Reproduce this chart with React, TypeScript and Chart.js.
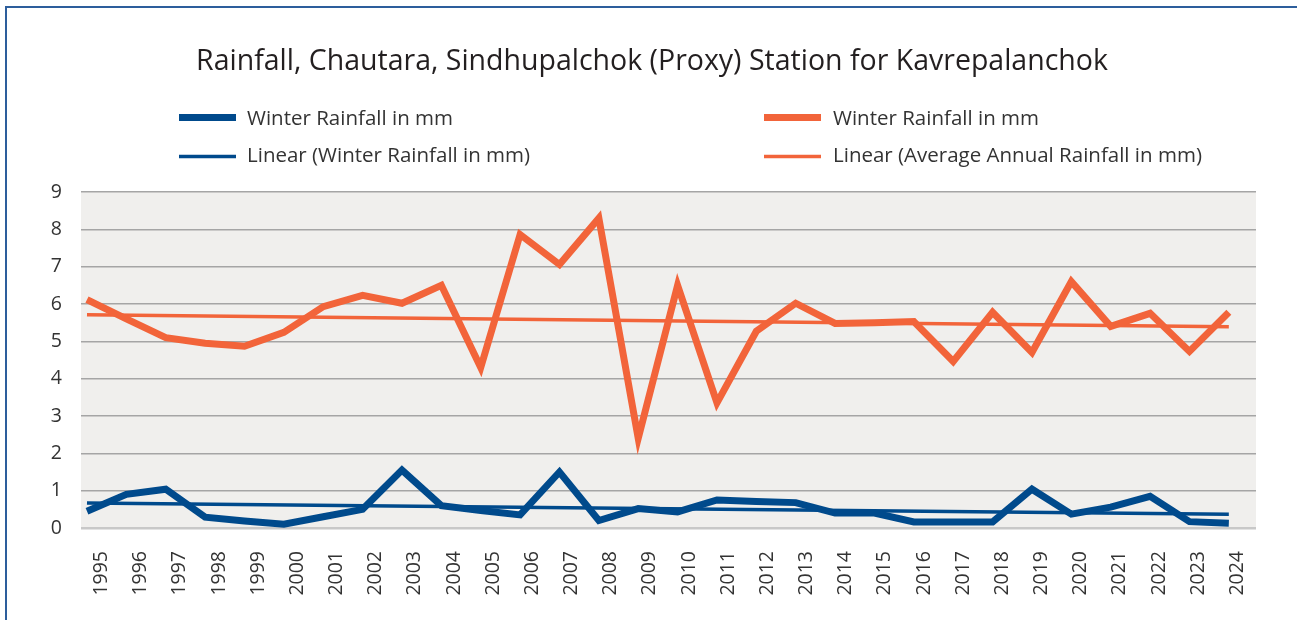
import React, { useEffect, useRef } from "react";
import { Chart, registerables } from "chart.js";

Chart.register(...registerables);

const years = [
  "1995", "1996", "1997", "1998", "1999", "2000", "2001", "2002", "2003", "2004",
  "2005", "2006", "2007", "2008", "2009", "2010", "2011", "2012", "2013", "2014",
  "2015", "2016", "2017", "2018", "2019", "2020", "2021", "2022", "2023", "2024",
];

const winterRainfall = [
  0.45, 0.9, 1.04, 0.29, 0.19, 0.1, 0.3, 0.5, 1.55, 0.6,
  0.47, 0.35, 1.5, 0.2, 0.52, 0.43, 0.75, 0.71, 0.68, 0.4,
  0.4, 0.16, 0.16, 0.16, 1.04, 0.37, 0.56, 0.85, 0.17, 0.13,
];

const annualRainfall = [
  6.12, 5.6, 5.1, 4.95, 4.87, 5.24, 5.93, 6.23, 6.02, 6.5,
  4.3, 7.86, 7.06, 8.3, 2.4, 6.5, 3.35, 5.27, 6.02, 5.48,
  5.5, 5.53, 4.46, 5.78, 4.7, 6.6, 5.4, 5.75, 4.73, 5.78,
];

// trend line end values (first year, last year)
const winterTrend = [0.67, 0.37];
const annualTrend = [5.71, 5.39];

const yTicks = [0, 1, 2, 3, 4, 5, 6, 7, 8, 9];

const titleText = "Rainfall, Chautara, Sindhupalchok (Proxy) Station for Kavrepalanchok";
const legendItems = [
  { text: "Winter Rainfall in mm", color: "#004a8c", width: 7 },
  { text: "Linear (Winter Rainfall in mm)", color: "#004a8c", width: 3.5 },
  { text: "Winter Rainfall in mm", color: "#f2643a", width: 7 },
  { text: "Linear (Average Annual Rainfall in mm)", color: "#f2643a", width: 3.5 },
];

const FONT = "'Open Sans', Lato, sans-serif";

export default function App() {
  const ref = useRef<HTMLCanvasElement | null>(null);

  useEffect(() => {
    if (!ref.current) return;
    const toPts = (arr: number[]) => arr.map((v, i) => ({ x: i, y: v }));
    const trendPts = (t: number[]) => [
      { x: 0, y: t[0] },
      { x: years.length - 1, y: t[1] },
    ];

    const bgPlugin = {
      id: "bg",
      beforeDraw(chart: any) {
        const { ctx, chartArea } = chart;
        ctx.save();
        ctx.fillStyle = "#f0efed";
        ctx.fillRect(chartArea.left, chartArea.top, chartArea.right - chartArea.left, chartArea.bottom - chartArea.top);
        ctx.restore();
      },
    };

    const textPlugin = {
      id: "texts",
      afterDraw(chart: any) {
        const { ctx } = chart;
        ctx.save();
        ctx.fillStyle = "#231f20";
        ctx.font = `28.5px ${FONT}`;
        ctx.textAlign = "center";
        ctx.textBaseline = "alphabetic";
        ctx.fillText(titleText, 652, 69.5);

        const cols = [
          { lx: 179, tx: 247 },
          { lx: 764, tx: 833 },
        ];
        const rows = [
          { ly: 117.5, ty: 125 },
          { ly: 156.5, ty: 162 },
        ];
        ctx.font = `20.5px ${FONT}`;
        ctx.textAlign = "left";
        legendItems.forEach((it, idx) => {
          const c = cols[Math.floor(idx / 2)];
          const r = rows[idx % 2];
          ctx.strokeStyle = it.color;
          ctx.lineWidth = it.width;
          ctx.lineCap = "butt";
          ctx.beginPath();
          ctx.moveTo(c.lx, r.ly);
          ctx.lineTo(c.lx + 57, r.ly);
          ctx.stroke();
          ctx.fillStyle = "#333333";
          ctx.fillText(it.text, c.tx, r.ty);
        });
        ctx.restore();
      },
    };

    const chart = new Chart(ref.current, {
      type: "line",
      data: {
        labels: years,
        datasets: [
          {
            label: "Linear (Average Annual Rainfall in mm)",
            data: trendPts(annualTrend),
            xAxisID: "xd",
            borderColor: "#f2643a",
            borderWidth: 3.5,
            pointRadius: 0,
            order: 3,
          },
          {
            label: "Winter Rainfall in mm (annual)",
            data: toPts(annualRainfall),
            xAxisID: "xd",
            borderColor: "#f2643a",
            borderWidth: 7,
            pointRadius: 0,
            borderJoinStyle: "miter",
            borderCapStyle: "butt",
            order: 2,
          },
          {
            label: "Linear (Winter Rainfall in mm)",
            data: trendPts(winterTrend),
            xAxisID: "xd",
            borderColor: "#004a8c",
            borderWidth: 3.5,
            pointRadius: 0,
            order: 1,
          },
          {
            label: "Winter Rainfall in mm",
            data: toPts(winterRainfall),
            xAxisID: "xd",
            borderColor: "#004a8c",
            borderWidth: 7,
            pointRadius: 0,
            borderJoinStyle: "miter",
            borderCapStyle: "butt",
            order: 0,
          },
        ],
      },
      options: {
        animation: false,
        responsive: false,
        maintainAspectRatio: false,
        layout: { padding: { top: 192, right: 41, left: 0, bottom: 0 } },
        plugins: {
          legend: { display: false },
          title: { display: false },
          tooltip: { enabled: false },
        },
        elements: { line: { tension: 0 } },
        scales: {
          x: {
            type: "category",
            offset: true,
            grid: { display: false },
            border: { display: false },
            ticks: {
              color: "#333333",
              font: { family: FONT, size: 19.5 },
              minRotation: 90,
              maxRotation: 90,
              padding: 15,
              labelOffset: 1,
              autoSkip: false,
            },
            afterFit(scale: any) {
              scale.height = 92;
            },
          },
          xd: {
            type: "linear",
            display: false,
            min: -0.152,
            max: 29.69,
          },
          y: {
            min: 0,
            max: 9,
            border: { display: false },
            afterBuildTicks(scale: any) {
              scale.ticks = yTicks.map((v) => ({ value: v }));
            },
            grid: {
              drawTicks: false,
              color: (c: any) => (c.tick && c.tick.value === 0 ? "#c8c8c8" : "#a5a5a5"),
              lineWidth: (c: any) => (c.tick && c.tick.value === 0 ? 2.5 : 1.5),
            },
            ticks: {
              color: "#333333",
              font: { family: FONT, size: 19.5 },
              padding: 19,
            },
            afterFit(scale: any) {
              scale.width = 81;
            },
          },
        },
      },
      plugins: [bgPlugin, textPlugin],
    } as any);

    return () => chart.destroy();
  }, []);

  return (
    <div style={{ position: "absolute", left: 0, top: 0, width: 1297, height: 620, background: "#ffffff", overflow: "hidden" }}>
      <div
        style={{
          position: "absolute",
          left: 5,
          top: 6,
          width: 1400,
          height: 700,
          borderLeft: "2px solid #2d5e9c",
          borderTop: "2px solid #2d5e9c",
        }}
      />
      <canvas ref={ref} width={1297} height={620} style={{ position: "absolute", left: 0, top: 0, width: 1297, height: 620 }} />
    </div>
  );
}
